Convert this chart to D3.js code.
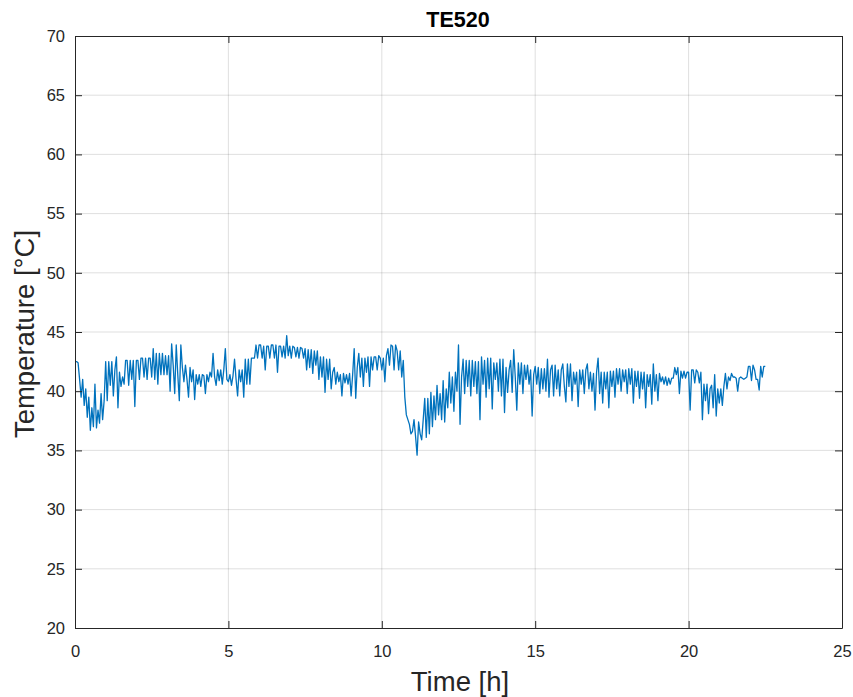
<!DOCTYPE html>
<html>
<head>
<meta charset="utf-8">
<script src="https://cdn.jsdelivr.net/npm/d3@7/dist/d3.min.js"></script>
<style>
  body { margin: 0; background: #fff; }
  svg { display: block; font-family: Arial, "Liberation Sans", Helvetica, sans-serif; }
</style>
</head>
<body>
<svg id="chart" width="853" height="697"></svg>
<script>
// TE520 logged every 0.05 h, one row per half hour
const timeStep = 0.05;
const temps = [
  42.5, 42.5, 42.4, 41.0, 39.5, 41.0, 38.8, 40.2, 37.8, 39.5,
  36.7, 38.6, 37.0, 40.6, 36.9, 38.4, 37.3, 39.8, 37.6, 39.2,
  42.5, 39.2, 42.5, 40.5, 42.5, 39.6, 41.8, 42.9, 38.6, 41.6,
  40.4, 41.2, 40.6, 42.6, 42.6, 40.5, 42.6, 41.0, 42.6, 38.7,
  42.6, 42.6, 41.0, 42.8, 42.8, 41.2, 42.8, 41.0, 42.8, 42.8,
  41.2, 43.6, 41.0, 43.2, 40.6, 43.2, 41.4, 43.2, 41.4, 43.0,
  41.4, 43.0, 40.0, 44.0, 42.2, 39.8, 43.9, 41.4, 39.2, 43.9,
  42.0, 40.8, 42.2, 41.0, 39.5, 42.0, 40.8, 41.8, 39.3, 41.4,
  40.6, 41.4, 40.4, 41.4, 41.3, 39.8, 41.4, 40.8, 41.6, 41.2,
  43.2, 41.2, 40.5, 41.8, 40.9, 41.8, 40.6, 41.8, 43.6, 41.0,
  40.8, 41.4, 40.5, 41.3, 42.7, 41.0, 39.6, 41.8, 40.8, 41.8,
  39.5, 42.7, 40.6, 42.7, 40.6, 42.8, 42.8, 42.8, 43.9, 42.8,
  43.9, 43.9, 42.8, 43.8, 41.8, 43.8, 43.8, 42.8, 43.9, 43.9,
  42.8, 43.9, 41.6, 43.8, 43.8, 42.9, 43.8, 42.8, 44.7, 43.0,
  43.8, 42.8, 43.8, 43.7, 42.9, 43.7, 42.8, 43.7, 43.6, 42.8,
  43.6, 41.8, 43.5, 42.0, 43.5, 41.5, 43.4, 42.2, 43.4, 41.0,
  42.9, 41.2, 42.9, 39.9, 42.7, 41.0, 42.7, 40.2, 41.6, 42.0,
  40.6, 41.6, 40.8, 41.4, 39.6, 41.5, 40.7, 41.4, 40.6, 41.5,
  39.6, 41.4, 43.6, 39.4, 42.0, 43.2, 41.2, 42.8, 40.4, 42.8,
  41.6, 42.9, 40.4, 42.9, 41.8, 42.9, 42.9, 41.8, 43.0, 42.8,
  41.8, 42.8, 40.8, 43.0, 43.6, 42.2, 43.9, 43.8, 41.8, 43.9,
  43.4, 41.8, 43.4, 41.2, 42.6, 39.5, 38.0, 37.6, 37.2, 36.4,
  36.6, 37.6, 36.2, 34.6, 37.4, 36.4, 35.9, 37.6, 39.4, 36.1,
  39.4, 36.4, 39.9, 37.0, 39.6, 37.6, 40.5, 38.0, 39.8, 37.6,
  40.9, 37.4, 40.2, 38.6, 41.6, 39.0, 41.2, 38.3, 41.6, 40.0,
  43.9, 37.2, 41.2, 42.7, 39.8, 42.6, 40.4, 42.6, 39.6, 42.6,
  40.4, 42.5, 39.8, 42.5, 37.6, 42.9, 40.6, 42.6, 39.5, 42.8,
  40.2, 42.8, 38.5, 42.4, 41.0, 42.4, 40.0, 42.7, 39.6, 42.7,
  38.2, 42.0, 39.9, 41.8, 42.6, 39.9, 43.5, 41.2, 38.4, 42.4,
  40.6, 42.4, 39.8, 42.2, 41.0, 42.2, 40.6, 41.8, 37.9, 41.4,
  42.1, 40.6, 42.0, 39.8, 41.9, 40.2, 41.9, 40.0, 42.7, 39.5,
  41.8, 42.2, 39.6, 42.2, 40.2, 41.8, 39.6, 41.8, 42.3, 40.4,
  39.1, 42.3, 40.4, 42.3, 39.2, 41.6, 40.6, 41.6, 38.7, 41.8,
  40.6, 41.8, 39.8, 41.8, 42.3, 40.2, 41.6, 40.0, 41.5, 38.4,
  41.6, 42.8, 39.8, 41.6, 39.0, 41.6, 40.2, 41.6, 38.6, 41.7,
  40.4, 41.7, 39.5, 41.9, 40.6, 41.9, 40.0, 41.8, 40.8, 41.8,
  39.8, 41.9, 40.6, 41.9, 39.0, 41.7, 40.4, 41.7, 39.4, 41.6,
  40.2, 41.6, 38.6, 41.4, 40.4, 41.4, 38.9, 42.3, 40.0, 41.4,
  39.2, 41.5, 40.8, 41.2, 40.6, 41.2, 40.5, 41.1, 40.6, 41.1,
  41.1, 42.0, 41.4, 42.0, 39.8, 41.7, 41.1, 41.7, 41.1, 41.6,
  41.6, 38.4, 41.8, 41.8, 40.7, 41.8, 41.6, 40.7, 41.6, 37.6,
  40.6, 39.2, 40.6, 38.1, 40.2, 40.5, 38.6, 41.4, 37.9, 40.2,
  39.0, 40.2, 38.8, 40.4, 41.5, 40.2, 41.2, 40.9, 41.5, 41.2,
  41.2, 41.1, 40.0, 41.1, 41.2, 41.1, 41.0, 41.1, 41.2, 42.1,
  42.1, 40.9, 42.2, 41.8, 41.0, 41.0, 40.1, 42.1, 41.2, 42.1,
  42.1
];

const xTicks = [0, 5, 10, 15, 20, 25];
const yTicks = [20, 25, 30, 35, 40, 45, 50, 55, 60, 65, 70];

const svg = d3.select("#chart"),
  margin = {top: 36, right: 11, bottom: 69, left: 75},
  width = +svg.attr("width") - margin.left - margin.right,
  height = +svg.attr("height") - margin.top - margin.bottom;

const x = d3.scaleLinear().domain([0, 25]).range([0, width]);
const y = d3.scaleLinear().domain([20, 70]).range([height, 0]);

const g = svg.append("g")
  .attr("transform", `translate(${margin.left},${margin.top})`);

// grid
g.append("g").selectAll("line")
  .data(xTicks.slice(1, -1)).enter().append("line")
  .attr("x1", d => x(d)).attr("x2", d => x(d))
  .attr("y1", 0).attr("y2", height)
  .attr("stroke", "#262626").attr("stroke-opacity", 0.15);
g.append("g").selectAll("line")
  .data(yTicks.slice(1, -1)).enter().append("line")
  .attr("y1", d => y(d)).attr("y2", d => y(d))
  .attr("x1", 0).attr("x2", width)
  .attr("stroke", "#262626").attr("stroke-opacity", 0.15);

// data line
const data = temps.map((v, i) => ({t: i * timeStep, v: v}));
g.append("path")
  .datum(data)
  .attr("fill", "none")
  .attr("stroke", "#0072BD")
  .attr("stroke-width", 1.3)
  .attr("stroke-linejoin", "round")
  .attr("d", d3.line().x(d => x(d.t)).y(d => y(d.v)));

// axes, ticks pointing inward
g.append("g")
  .attr("transform", `translate(0,${height})`)
  .call(d3.axisBottom(x).tickValues(xTicks).tickSize(-7).tickPadding(17).tickSizeOuter(0));
g.append("g")
  .call(d3.axisLeft(y).tickValues(yTicks).tickSize(-7).tickPadding(10).tickSizeOuter(0));
g.append("g")
  .call(d3.axisTop(x).tickValues(xTicks).tickSize(-7).tickFormat("").tickSizeOuter(0));
g.append("g").attr("transform", `translate(${width},0)`)
  .call(d3.axisRight(y).tickValues(yTicks).tickSize(-7).tickFormat("").tickSizeOuter(0));

svg.selectAll(".domain, .tick line").attr("stroke", "#262626");
svg.selectAll(".tick text")
  .attr("fill", "#262626")
  .style("font-size", "16.5px")
  .style("font-family", "Arial, 'Liberation Sans', sans-serif");

// labels
svg.append("text")
  .attr("x", 458).attr("y", 26.5)
  .attr("text-anchor", "middle")
  .style("font-size", "21.5px").style("font-weight", "bold")
  .attr("fill", "#000")
  .text("TE520");

svg.append("text")
  .attr("x", 460).attr("y", 691)
  .attr("text-anchor", "middle")
  .style("font-size", "27.5px")
  .attr("fill", "#262626")
  .text("Time [h]");

svg.append("text")
  .attr("transform", "translate(34,334) rotate(-90)")
  .attr("text-anchor", "middle")
  .style("font-size", "27.5px")
  .attr("fill", "#262626")
  .text("Temperature [°C]");
</script>
</body>
</html>
